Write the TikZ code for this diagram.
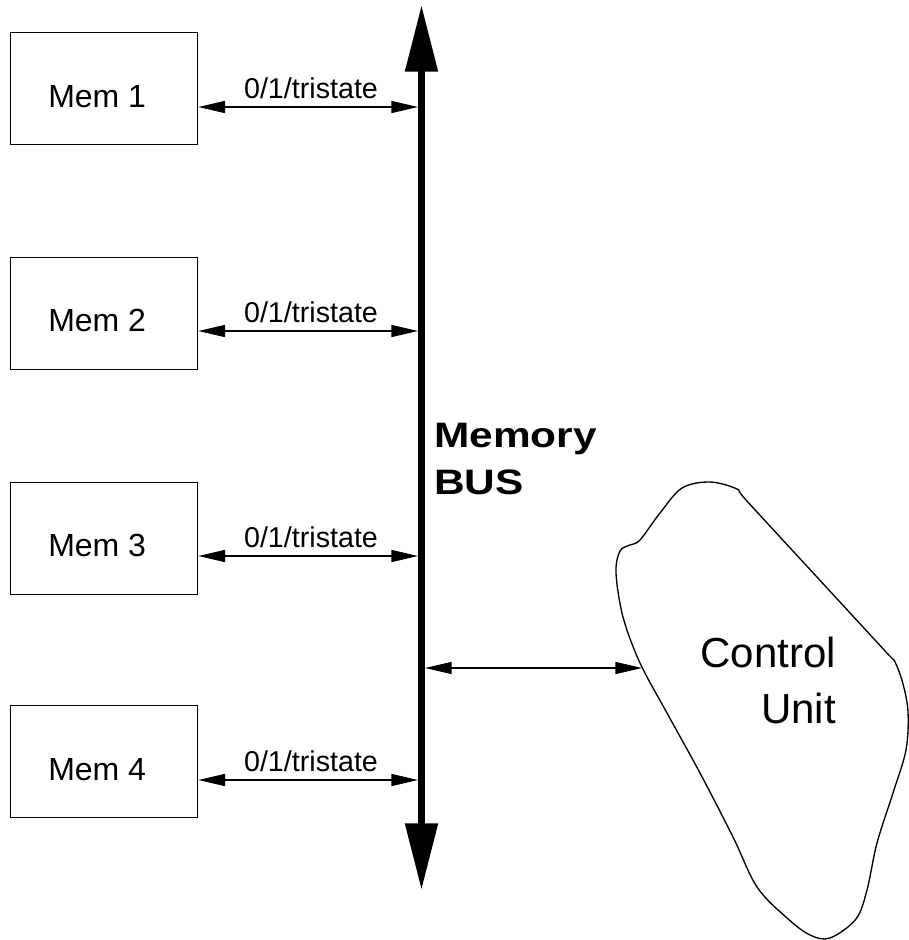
\documentclass[tikz,border=0pt]{standalone}
\usepackage{fontspec}
\setmainfont{Liberation Sans}
\newfontfamily\busfont[FakeStretch=1.2]{Liberation Sans Bold}
\usetikzlibrary{arrows.meta}

\begin{document}
\begin{tikzpicture}[x=0.75pt,y=-0.75pt,
  membox/.style={draw,line width=1pt,minimum width=140.25pt,minimum height=84pt,
                 anchor=north west,inner sep=0pt},
  memtext/.style={anchor=base west,inner sep=0pt,font=\fontsize{24}{28}\selectfont},
  sig/.style={line width=1.1pt,
              {Triangle[length=20pt,width=9pt]}-{Triangle[length=20pt,width=9pt]}},
  siglabel/.style={anchor=base,inner sep=0pt,font=\fontsize{21.5}{26}\selectfont},
  bus/.style={line width=5.5pt,
              {Triangle[length=50pt,width=23.5pt]}-{Triangle[length=50pt,width=23.5pt]}},
  bustext/.style={anchor=base west,inner sep=0pt,font=\busfont\fontsize{26.5}{32}\selectfont},
  cutext/.style={anchor=base east,inner sep=0pt,font=\fontsize{31.5}{38}\selectfont},
  blob/.style={line width=1pt}
]
\useasboundingbox (0,0) rectangle (909,940);

% the memory bus
\coordinate (bustop) at (421.5,5);
\coordinate (busbot) at (421.5,890);
\draw[bus] (bustop) -- (busbot);
\node[bustext] (busa) at (434,447) {Memory};
\node[bustext] (busb) at (434,494) {BUS};

% memory modules and their tristate links to the bus
\foreach \k/\top/\ya in {1/32/107, 2/257/331, 3/482/556, 4/705/780}{
  \node[membox] (mem\k) at (10,\top) {};
  \node[memtext] (mem\k t) at (48,\ya) {Mem \k};
  \coordinate (b\k) at (418,\ya);
  \draw[sig] (mem\k.east |- b\k) -- (b\k);
  \node[siglabel] (lab\k) at (311,\ya-9) {0/1/tristate};
}

% control unit
\draw[blob] plot[smooth cycle, tension=0.55] coordinates {
  (682,488) (710,482) (737,489) (746,500) (816,576) (886,652) (895,662)
  (903,684) (908,712) (906,750) (893,793) (877,843) (867,890) (856,919)
  (830,938) (810,935) (787,918) (757,887) (733,837) (700,773) (667,713)
  (640,663) (623,617) (616,573) (620,551) (630,545) (640,540) (660,513)};
\node[cutext] (cu1) at (836,667) {Control};
\node[cutext] (cu2) at (836,723) {Unit};

\coordinate (busr) at (425,668);
\coordinate (cuedge) at (642,668);
\draw[sig] (busr) -- (cuedge);
\end{tikzpicture}
\end{document}
